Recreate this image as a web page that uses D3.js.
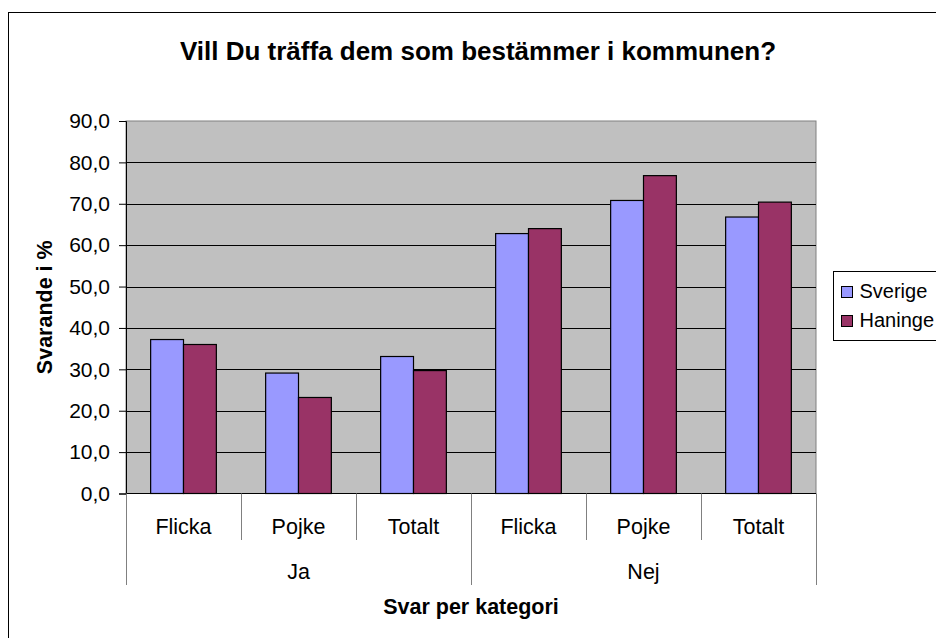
<!DOCTYPE html>
<html>
<head>
<meta charset="utf-8">
<script src="https://cdn.jsdelivr.net/npm/d3@7"></script>
<style>
  body { margin: 0; background: #fff; }
  svg { display: block; font-family: "Liberation Sans", Arial, sans-serif; }
</style>
</head>
<body>
<div id="container"></div>
<script>
// answers, sub-categories and the two series
const groups = ["Ja", "Nej"];
const subCats = ["Flicka", "Pojke", "Totalt"];
const seriesNames = ["Sverige", "Haninge"];
const sverige = [37.2, 29.1, 33.1, 62.8, 70.8, 66.8];
const haninge = [36.0, 23.2, 29.7, 64.0, 76.8, 70.4];
const yTicks = [0, 10, 20, 30, 40, 50, 60, 70, 80, 90];
const colors = ["#9999FF", "#993366"];

const width = 936, height = 638;
const plot = {left: 126, right: 816, top: 121, bottom: 493.5};

const svg = d3.select("#container").append("svg")
    .attr("width", width)
    .attr("height", height);

// chart frame
svg.append("rect")
    .attr("x", 8.5).attr("y", 12.5)
    .attr("width", 1000).attr("height", 1000)
    .attr("fill", "#fff")
    .attr("stroke", "#000");

// one entry per bar slot
const cats = [];
groups.forEach(g => subCats.forEach(s => cats.push(g + "|" + s)));

const x0 = d3.scaleBand().domain(cats).range([plot.left, plot.right]).paddingInner(0).paddingOuter(0);
const x1 = d3.scaleBand().domain(seriesNames).range([0, x0.bandwidth()]).paddingInner(0).paddingOuter(0.75);
const xg = d3.scaleBand().domain(groups).range([plot.left, plot.right]);
const y = d3.scaleLinear().domain([0, 90]).range([plot.bottom, plot.top]);

// plot area
svg.append("rect")
    .attr("x", plot.left).attr("y", plot.top)
    .attr("width", plot.right - plot.left).attr("height", plot.bottom - plot.top)
    .attr("fill", "#C0C0C0")
    .attr("stroke", "#808080");

// gridlines
svg.append("g").selectAll("line")
    .data(yTicks.filter(d => d > 0 && d < 90))
    .join("line")
    .attr("x1", plot.left).attr("x2", plot.right)
    .attr("y1", d => Math.round(y(d)) + 0.5).attr("y2", d => Math.round(y(d)) + 0.5)
    .attr("stroke", "#000");

// y axis
const yAxis = d3.axisLeft(y)
    .tickValues(yTicks)
    .tickSize(7)
    .tickPadding(9)
    .tickFormat(d => d3.format(".1f")(d).replace(".", ","));

const yg = svg.append("g")
    .attr("transform", `translate(${plot.left},0)`)
    .call(yAxis);
yg.select(".domain").attr("stroke", "#000");
yg.selectAll(".tick line").attr("stroke", "#000");
yg.selectAll(".tick text")
    .attr("fill", "#000")
    .style("font-size", "21px")
    .style("font-family", "Liberation Sans, Arial, sans-serif");

// bars
const rows = cats.map((c, i) => ({cat: c, values: [sverige[i], haninge[i]]}));
svg.append("g").selectAll("g")
    .data(rows)
    .join("g")
    .attr("transform", d => `translate(${x0(d.cat)},0)`)
    .selectAll("rect")
    .data(d => d.values.map((v, j) => ({name: seriesNames[j], value: v, color: colors[j]})))
    .join("rect")
    .attr("x", d => x1(d.name))
    .attr("width", x1.bandwidth())
    .attr("y", d => y(d.value))
    .attr("height", d => plot.bottom - y(d.value))
    .attr("fill", d => d.color)
    .attr("stroke", "#000")
    .attr("stroke-width", 1.2);

// bottom axis line
svg.append("line")
    .attr("x1", plot.left).attr("x2", plot.right)
    .attr("y1", plot.bottom).attr("y2", plot.bottom)
    .attr("stroke", "#000").attr("stroke-width", 1.2);

// dividers between sub-categories and groups
const bounds = d3.range(cats.length + 1).map(i => plot.left + i * x0.step());
svg.append("g").selectAll("line")
    .data(bounds)
    .join("line")
    .attr("x1", d => Math.round(d) + 0.5).attr("x2", d => Math.round(d) + 0.5)
    .attr("y1", plot.bottom)
    .attr("y2", (d, i) => i % subCats.length === 0 ? 585 : 540)
    .attr("stroke", "#808080");

// sub-category labels
svg.append("g").selectAll("text")
    .data(cats)
    .join("text")
    .attr("x", d => x0(d) + x0.bandwidth() / 2)
    .attr("y", 534)
    .attr("text-anchor", "middle")
    .style("font-size", "21.5px")
    .text(d => d.split("|")[1]);

// group labels
svg.append("g").selectAll("text")
    .data(groups)
    .join("text")
    .attr("x", d => xg(d) + xg.bandwidth() / 2)
    .attr("y", 579)
    .attr("text-anchor", "middle")
    .style("font-size", "21.5px")
    .text(d => d);

// titles
svg.append("text")
    .attr("x", 478).attr("y", 60)
    .attr("text-anchor", "middle")
    .style("font-size", "26px").style("font-weight", "bold")
    .text("Vill Du träffa dem som bestämmer i kommunen?");

svg.append("text")
    .attr("x", (plot.left + plot.right) / 2).attr("y", 614)
    .attr("text-anchor", "middle")
    .style("font-size", "21.5px").style("font-weight", "bold")
    .text("Svar per kategori");

svg.append("text")
    .attr("transform", `translate(52,${(plot.top + plot.bottom) / 2}) rotate(-90)`)
    .attr("text-anchor", "middle")
    .style("font-size", "21.5px").style("font-weight", "bold")
    .text("Svarande i %");

// legend (box runs past the right edge, as in the original)
const legend = svg.append("g").attr("transform", "translate(833.5,271.5)");
legend.append("rect")
    .attr("width", 200).attr("height", 69)
    .attr("fill", "#fff").attr("stroke", "#000");
const items = legend.selectAll("g.item")
    .data(seriesNames)
    .join("g")
    .attr("class", "item")
    .attr("transform", (d, i) => `translate(8,${15 + i * 29})`);
items.append("rect")
    .attr("width", 11).attr("height", 11)
    .attr("fill", (d, i) => colors[i])
    .attr("stroke", "#000");
items.append("text")
    .attr("x", 18).attr("y", 11.5)
    .style("font-size", "20px")
    .text(d => d);
</script>
</body>
</html>
